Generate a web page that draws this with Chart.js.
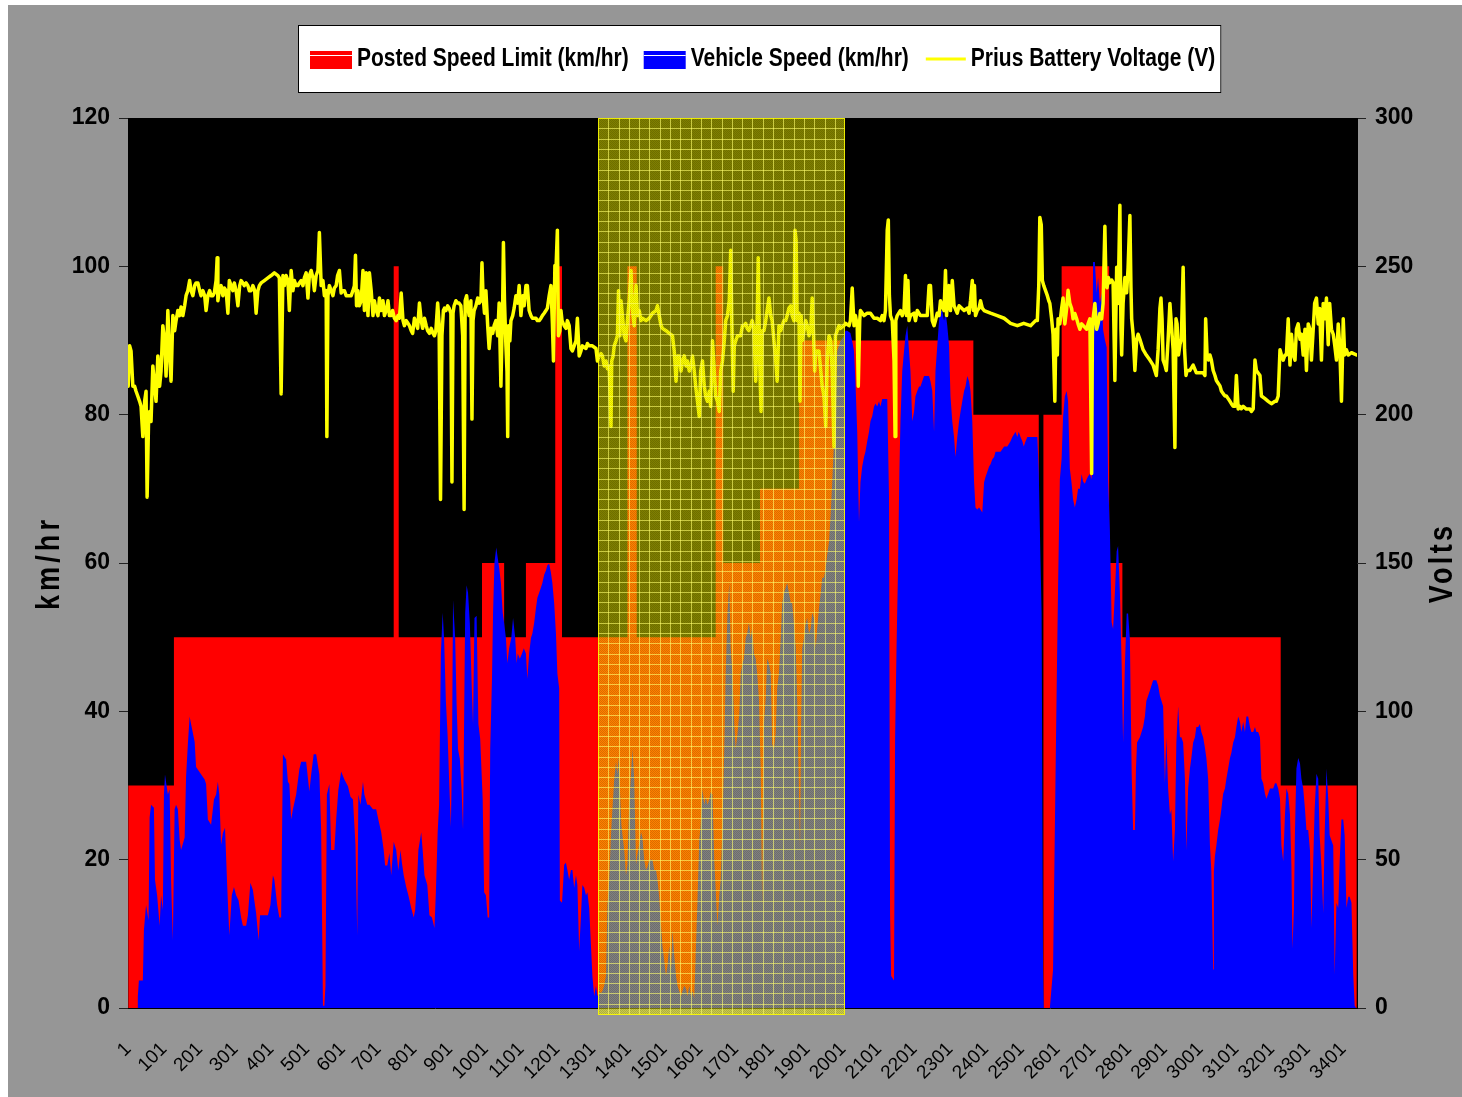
<!DOCTYPE html>
<html>
<head>
<meta charset="utf-8">
<title>Posted speed, vehicle speed and battery voltage</title>
<script src="https://cdn.jsdelivr.net/npm/chart.js@4.4.1/dist/chart.umd.min.js"></script>
<style>
  html, body { margin: 0; padding: 0; background: #fff; }
  canvas { display: block; }
</style>
</head>
<body>
<canvas id="chart" width="1462" height="1097"></canvas>
<script>
'use strict';

// sample number (1..3439) -> value
const seriesNames = ['Posted Speed Limit (km/hr)', 'Vehicle Speed (km/hr)', 'Prius Battery Voltage (V)'];
const xTickLabels = [1, 101, 201, 301, 401, 501, 601, 701, 801, 901, 1001, 1101, 1201, 1301, 1401, 1501, 1601,
  1701, 1801, 1901, 2001, 2101, 2201, 2301, 2401, 2501, 2601, 2701, 2801, 2901, 3001, 3101, 3201, 3301, 3401];
const highlightSamples = [1315, 2006];

// posted limit, value holds from the sample onward
const speedLimit = [[1, 30], [129, 50], [744, 100], [758, 50], [991, 60], [1053, 50], [1114, 60], [1196, 100],
  [1215, 50], [1398, 100], [1424, 50], [1645, 100], [1666, 60], [1769, 70], [1878, 90], [2366, 80], [2549, 0],
  [2562, 80], [2613, 100], [2746, 60], [2783, 50], [3226, 30], [3439, 30]];

const vehicleSpeed = [
  [1,0],[27,0],[28,1.6],[31,3.7],[42,3.7],[45,10.5],[51,13.9],[58,11.8],[61,25.7],[65,27.4],[73,27.0],[76,17.3],
  [82,15.2],[89,11.1],[93,15.2],[98,13.2],[101,28.8],[104,31.5],[112,28.8],[117,29.5],[121,17.3],[126,9.1],
  [131,26.8],[135,27.4],[140,26.8],[145,22.7],[149,21.3],[159,23.0],[163,31.2],[168,35.6],[173,39.3],[177,38.3],
  [187,35.9],[191,32.5],[201,31.8],[215,30.8],[219,30.2],[224,25.4],[233,24.7],[241,28.1],[247,28.8],[252,30.5],
  [256,28.8],[261,22.0],[266,23.6],[272,24.3],[278,16.6],[284,9.8],[291,15.2],[297,16.3],[303,15.2],[310,14.5],
  [317,12.2],[322,11.1],[331,11.1],[336,12.5],[343,16.9],[350,15.9],[354,14.5],[359,12.8],[366,9.1],[370,12.5],
  [378,12.5],[392,12.5],[399,13.9],[406,17.9],[410,17.3],[418,13.9],[424,12.2],[429,12.2],[434,34.2],[443,33.5],
  [448,30.5],[452,30.2],[457,25.4],[462,26.8],[471,28.8],[480,32.2],[485,33.2],[499,33.2],[508,29.2],[513,31.5],
  [520,34.2],[527,34.2],[536,31.5],[541,24.0],[546,0.3],[550,0.3],[553,3.0],[557,28.8],[564,30.2],[569,21.3],
  [578,21.3],[583,25.4],[589,29.4],[597,31.9],[606,30.8],[616,29.9],[623,28.5],[630,28.1],[637,22.0],[642,9.8],
  [645,28.8],[651,27.4],[658,30.5],[662,28.8],[670,27.4],[676,27.4],[686,26.8],[695,26.8],[701,25.4],[709,23.7],
  [716,21.3],[720,19.2],[726,19.2],[732,20.9],[737,17.9],[744,22.4],[751,21.3],[757,18.5],[763,21.3],[767,19.6],
  [772,17.9],[779,16.3],[785,15.2],[793,13.5],[800,12.2],[804,13.2],[810,17.9],[813,21.3],[821,23.7],[825,21.3],
  [830,17.9],[838,16.6],[844,12.5],[851,12.2],[858,10.8],
  [862,15.6],[867,23.7],[871,27.4],[876,47.8],[881,53.3],[885,49.9],[890,41.4],[895,36.6],[899,30.8],[904,24.4],
  [907,33.6],[910,55.0],[916,49.9],[920,41.0],[924,34.9],[929,33.6],[934,29.5],[938,24.0],[944,53.3],[948,57.0],
  [952,56.0],[957,51.9],[963,42.4],[966,38.3],[970,52.6],[976,52.9],[981,38.3],[986,36.3],[993,28.1],[997,15.6],
  [1002,15.2],[1007,12.2],[1011,12.2],[1014,34.9],[1019,44.4],[1022,53.3],[1026,60.1],[1031,62.1],[1035,60.7],
  [1039,59.4],[1044,57.3],[1049,53.3],[1053,51.9],[1058,49.9],[1062,46.5],[1067,48.5],[1073,49.9],[1078,52.6],
  [1084,49.9],[1088,46.5],[1091,47.8],[1097,47.1],[1103,47.8],[1108,48.5],[1114,47.8],[1118,44.4],[1123,47.8],
  [1128,49.9],[1132,50.5],[1137,51.9],[1142,53.9],[1146,55.3],[1151,56.0],[1156,56.7],[1160,57.3],[1165,58.4],
  [1170,59.0],[1174,59.7],[1179,59.9],[1184,58.7],[1188,57.3],[1193,54.6],[1198,50.5],[1202,45.1],[1207,43.1],
  [1209,14.5],[1215,14.2],[1221,19.3],[1226,19.6],[1230,18.6],[1235,17.3],[1240,18.6],[1244,18.6],[1249,16.2],
  [1254,17.9],[1258,16.6],[1263,7.7],[1268,12.5],[1272,16.6],[1277,16.2],[1282,15.2],[1286,15.6],[1291,13.5],
  [1296,8.4],[1300,4.3],[1305,1.6],[1310,3.0],[1314,1.6],[1319,2.3],[1324,2.0],[1328,2.3],[1333,3.0],[1338,4.3],
  [1342,13.9],[1347,17.3],[1352,23.4],[1356,26.8],[1361,30.8],[1366,33.2],[1370,31.5],[1373,33.9],[1377,29.5],
  [1381,24.7],[1384,23.4],[1389,21.3],[1394,17.9],[1398,19.3],[1403,27.4],[1408,31.5],[1412,34.9],[1417,30.8],
  [1422,19.3],[1426,20.7],[1431,22.0],[1436,23.7],[1440,23.0],[1445,20.0],[1450,18.6],[1454,19.0],[1459,20.0],
  [1464,20.0],[1468,20.0],[1473,18.6],[1478,18.6],[1482,17.3],[1487,14.9],[1492,11.1],[1496,8.4],[1501,6.4],
  [1506,4.3],[1510,5.7],[1515,8.4],[1520,5.0],[1524,10.5],[1529,7.1],[1534,4.3],[1538,3.0],[1543,2.3],[1548,1.6],
  [1552,2.3],[1557,3.0],[1562,2.6],[1566,1.6],[1571,3.0],[1576,1.6],[1580,2.3],[1585,1.3],[1589,7.1],[1594,14.5],
  [1599,22.7],[1603,24.7],[1608,29.5],[1613,27.4],[1617,28.5],[1622,27.4],[1627,28.1],[1631,29.1],[1636,28.8],
  [1641,20.0],[1645,15.9],[1650,11.1],[1655,15.2],[1659,17.3],[1664,24.7],[1669,34.9],[1673,45.1],[1678,53.3],
  [1683,57.3],[1687,48.5],[1692,45.1],[1697,38.3],[1701,34.9],[1706,37.0],[1711,39.7],[1715,45.1],[1720,46.5],
  [1724,47.1],[1729,49.9],[1733,50.5],[1738,51.9],[1743,49.9],[1747,51.2],[1752,47.8],[1757,47.1],[1761,45.1],
  [1766,41.7],[1771,32.2],[1775,13.9],[1780,38.3],[1785,41.7],[1789,47.1],[1794,46.5],[1799,45.1],[1803,35.6],
  [1808,34.9],[1813,37.0],[1817,43.1],[1822,45.1],[1827,49.9],[1831,54.6],[1836,56.0],[1841,56.7],[1845,57.3],
  [1850,56.0],[1855,54.6],[1859,54.6],[1864,51.9],[1869,48.5],[1873,41.7],[1878,29.5],[1881,21.3],[1884,38.3],
  [1887,48.5],[1892,49.9],[1897,51.9],[1901,52.6],[1906,50.5],[1911,51.2],[1915,53.3],[1920,52.6],[1925,48.5],
  [1929,51.2],[1934,53.9],[1939,56.0],[1943,58.0],[1948,58.0],[1953,59.4],[1957,61.1],[1962,62.8],[1967,66.8],
  [1971,70.9],[1976,76.4],[1980,82.5],[1985,88.6],[1994,89.9],[2004,90.6],[2008,91.3],[2013,91.3],[2022,91.0],
  [2027,89.9],[2032,88.6],[2036,84.5],[2041,77.7],[2046,65.5],[2050,70.9],[2055,73.0],[2060,74.3],[2064,75.0],
  [2069,76.4],[2074,77.7],[2078,79.1],[2083,79.8],[2088,81.1],[2092,81.5],[2097,81.1],[2102,81.8],[2106,81.1],
  [2111,82.1],[2116,82.1],[2125,82.1],[2130,68.9],[2133,12.5],[2136,4.3],[2144,3.7],[2147,36.3],[2151,48.5],
  [2155,58.7],[2159,72.3],[2162,79.1],[2167,85.9],[2172,88.6],[2176,90.6],[2181,92.0],[2186,88.6],[2190,85.9],
  [2195,79.1],[2200,80.4],[2204,82.5],[2209,83.2],[2214,83.8],[2218,83.8],[2223,84.5],[2228,85.2],[2237,85.2],
  [2242,85.2],[2246,84.5],[2251,83.2],[2256,77.7],[2260,85.9],[2265,89.3],[2270,92.7],[2274,94.0],[2279,94.0],
  [2284,92.7],[2288,94.0],[2293,92.0],[2298,89.3],[2302,82.5],[2307,79.1],[2312,77.0],[2316,74.3],[2321,77.0],
  [2326,79.1],[2330,80.4],[2335,81.8],[2340,83.2],[2344,83.8],[2349,85.2],[2354,84.5],[2358,83.2],[2363,79.1],
  [2368,70.9],[2372,67.5],[2377,67.2],[2382,67.5],[2386,67.2],[2391,66.8],[2396,70.9],[2400,71.6],[2405,72.3],
  [2410,73.0],[2414,73.3],[2419,74.0],[2424,74.3],[2428,75.0],[2442,75.0],[2452,75.7],[2461,75.7],[2470,76.4],
  [2475,77.0],[2484,77.7],[2489,77.0],[2493,77.7],[2498,77.0],[2503,76.4],[2507,75.7],[2512,76.4],[2517,77.0],
  [2545,77.0],[2549,72.3],[2554,60.1],[2557,53.3],[2561,5.0],[2563,0],
  [2580,0],[2589,5.2],[2594,24.0],[2599,42.8],[2603,56.7],[2608,71.3],[2613,74.1],[2617,79.7],[2622,82.5],
  [2627,83.2],[2631,81.8],[2636,72.7],[2641,70.7],[2645,68.6],[2650,67.5],[2655,68.6],[2659,70.0],[2664,70.0],
  [2669,72.0],[2673,71.0],[2678,70.7],[2683,71.3],[2687,71.7],[2692,72.0],[2697,71.3],[2701,100.6],[2706,100.6],
  [2711,96.4],[2715,98.5],[2720,95.0],[2725,96.4],[2729,91.5],[2734,90.1],[2739,89.1],[2743,71.3],[2748,64.4],
  [2753,52.0],[2757,51.1],[2762,56.0],[2767,61.6],[2771,62.3],[2776,56.0],[2781,46.2],[2785,35.8],[2790,46.2],
  [2795,53.2],[2799,53.2],[2804,49.7],[2809,31.6],[2813,24.0],[2818,24.0],[2821,32.3],[2824,35.8],[2832,36.5],
  [2841,37.9],[2846,39.3],[2850,41.4],[2860,42.8],[2869,44.2],[2878,44.2],[2883,43.5],[2888,42.1],[2897,40.7],
  [2902,30.3],[2906,36.5],[2911,29.6],[2916,26.1],[2920,26.8],[2925,19.8],[2930,24.0],[2934,35.8],[2939,40.7],
  [2944,36.5],[2948,36.5],[2953,35.8],[2958,30.9],[2962,21.2],[2967,29.6],[2972,32.3],[2976,33.7],[2981,35.8],
  [2986,36.5],[2990,37.9],[2995,37.9],[3000,38.3],[3004,37.2],[3009,36.5],[3014,35.1],[3018,33.7],[3023,30.9],
  [3028,21.9],[3032,18.4],[3037,5.2],[3039,18.4],[3042,20.5],[3046,21.9],[3051,24.0],[3056,25.4],[3060,26.8],
  [3065,28.9],[3070,29.6],[3074,30.9],[3079,32.3],[3084,33.7],[3088,34.4],[3093,35.8],[3098,36.5],[3102,37.9],
  [3107,39.3],[3112,38.6],[3116,37.2],[3121,38.6],[3126,37.2],[3130,39.3],[3135,39.3],[3140,37.9],[3144,37.2],
  [3149,37.2],[3154,37.9],[3158,37.2],[3163,37.2],[3168,36.5],[3172,30.9],[3177,30.3],[3182,28.9],[3186,28.2],
  [3191,28.9],[3196,29.6],[3200,29.6],[3205,29.6],[3210,30.3],[3214,30.3],[3219,29.6],[3224,28.2],[3228,21.9],
  [3233,19.8],[3238,26.1],[3242,29.6],[3247,28.9],[3252,26.1],[3256,19.1],[3259,8.0],[3263,13.5],[3266,24.0],
  [3270,32.3],[3275,33.7],[3280,33.0],[3284,30.9],[3289,29.6],[3294,26.8],[3298,24.0],[3303,24.0],[3308,21.2],
  [3312,10.8],[3317,19.8],[3321,26.8],[3326,31.6],[3331,30.9],[3335,23.3],[3340,19.1],[3345,12.8],[3349,23.3],
  [3354,32.3],[3359,28.2],[3363,23.3],[3368,22.6],[3373,21.9],[3377,4.5],[3382,14.2],[3387,13.5],[3391,19.8],
  [3396,25.4],[3401,25.4],[3405,23.3],[3410,13.5],[3415,15.0],[3419,15.0],[3424,14.2],[3429,4.5],[3433,0.3],
  [3437,0]
];

const batteryVolts = [
  [1,209.6],[5,223.2],[9,221.5],[14,209.6],[19,209.6],[23,207.9],[28,206.2],[33,204.5],[37,202.8],[42,192.6],
  [47,204.5],[51,207.9],[54,172.2],[58,197.7],[61,201.1],[65,197.7],[70,216.4],[75,209.6],[79,204.5],[84,219.8],
  [89,209.6],[93,214.7],[98,230.0],[103,224.9],[107,213.0],[112,235.1],[117,219.8],[121,211.3],[126,233.4],
  [131,228.3],[135,231.7],[140,235.1],[145,233.4],[149,236.3],[154,233.4],[159,236.7],[163,240.1],[168,241.8],
  [173,245.2],[177,241.8],[182,240.1],[187,243.5],[191,244.4],[196,244.4],[201,241.8],[205,240.1],[210,241.8],
  [215,240.1],[219,235.1],[224,240.1],[229,241.8],[233,240.1],[238,240.1],[242,241.0],[247,245.2],[250,252.9],
  [252,238.4],[256,241.8],[261,243.5],[266,240.1],[270,242.7],[275,241.8],[280,234.2],[284,245.2],[289,243.5],
  [294,241.8],[298,244.4],[303,241.8],[308,236.7],[313,243.5],[317,245.2],[322,244.4],[326,243.5],[331,244.4],
  [336,243.5],[340,241.8],[345,241.8],[350,243.5],[355,241.8],[359,234.2],[364,241.8],[368,243.5],[373,244.4],
  [382,245.2],[392,246.1],[401,246.9],[410,247.8],[420,246.9],[424,246.1],[429,207.0],[434,246.9],[438,243.5],
  [443,246.9],[448,245.2],[452,235.1],[457,248.6],[462,241.8],[466,245.2],[471,243.5],[476,243.5],[480,244.4],
  [485,245.2],[490,243.5],[494,246.1],[499,247.8],[504,239.3],[508,246.9],[513,248.6],[518,246.1],[522,241.8],
  [527,246.9],[532,248.6],[536,261.4],[541,243.5],[546,245.2],[550,240.1],[555,241.8],[557,192.6],[560,240.1],
  [564,243.5],[569,241.8],[574,240.1],[578,242.7],[583,243.5],[587,246.9],[592,248.6],[597,241.0],[601,241.8],
  [606,241.8],[611,240.1],[620,240.1],[625,240.1],[630,241.8],[634,243.5],[637,253.7],[640,236.7],[644,241.8],
  [648,236.7],[653,238.4],[658,248.6],[662,235.1],[667,247.8],[672,233.4],[676,247.8],[681,241.8],[686,233.4],
  [690,238.4],[695,235.1],[700,233.4],[704,239.3],[709,235.1],[714,238.4],[718,233.4],[723,235.1],[728,238.4],
  [732,233.4],[737,233.4],[741,235.1],[746,232.5],[751,231.7],[756,233.4],[760,232.5],[765,241.0],[770,231.7],
  [774,230.0],[779,231.7],[784,230.8],[788,230.0],[793,228.3],[797,227.4],[802,232.5],[807,230.8],[811,229.1],
  [816,237.6],[821,231.7],[825,229.1],[830,232.5],[835,230.0],[839,228.3],[844,227.4],[849,229.1],[854,227.4],
  [858,226.6],
  [862,228.3],[867,237.6],[871,230.8],[875,171.4],[879,226.6],[883,235.1],[886,235.9],[890,235.1],[895,236.7],
  [899,235.9],[904,234.2],[907,177.3],[910,234.2],[913,236.7],[918,238.4],[923,237.6],[927,237.6],[932,236.7],
  [937,226.6],[941,168.0],[944,238.4],[948,240.1],[951,236.7],[955,233.4],[960,238.4],[963,198.5],[966,231.7],
  [969,235.1],[974,236.7],[979,239.3],[983,237.6],[988,238.4],[991,251.2],[994,240.1],[998,234.2],[1002,241.8],
  [1007,230.0],[1011,222.3],[1016,229.1],[1021,227.4],[1025,230.0],[1030,231.7],[1035,226.6],[1039,237.6],
  [1044,209.6],[1049,238.4],[1051,258.0],[1054,238.4],[1058,223.2],[1061,214.7],[1063,192.6],[1065,230.0],
  [1069,224.9],[1072,231.7],[1077,233.4],[1081,235.9],[1086,240.1],[1091,237.6],[1095,243.5],[1100,233.4],
  [1105,240.1],[1109,236.7],[1114,243.5],[1118,243.5],[1123,235.1],[1128,233.4],[1132,232.5],[1142,232.5],
  [1146,231.7],[1151,231.7],[1156,232.5],[1160,233.4],[1165,234.2],[1170,235.1],[1174,235.9],[1179,240.1],
  [1184,243.5],[1188,230.8],[1191,218.1],[1195,250.3],[1198,248.6],[1202,262.2],[1205,226.6],[1209,228.3],
  [1212,235.1],[1215,231.7],[1221,230.0],[1226,229.1],[1230,231.7],[1235,230.0],[1240,222.3],[1244,221.5],
  [1249,223.2],[1254,224.9],[1258,232.5],[1263,219.8],[1268,221.5],[1272,223.2],[1282,222.3],[1286,224.0],
  [1291,223.2],[1300,223.2],[1310,222.3],[1314,218.1],[1319,219.8],[1324,220.6],[1328,219.8],[1333,216.4],
  [1338,218.1],[1342,215.5],[1347,216.4],[1352,196.0],[1354,218.1],[1358,219.8],[1361,223.2],[1366,224.9],
  [1370,226.6],[1373,241.8],[1377,226.6],[1380,238.4],[1384,233.4],[1389,226.6],[1394,224.9],[1398,231.7],
  [1403,238.4],[1408,248.6],[1412,235.1],[1417,230.0],[1422,243.5],[1426,233.4],[1431,235.1],[1436,231.7],
  [1440,232.5],[1450,231.7],[1459,232.5],[1468,234.2],[1478,235.1],[1482,236.7],[1487,233.4],[1492,230.0],
  [1496,229.1],[1506,228.3],[1515,227.4],[1524,226.6],[1529,221.5],[1534,211.3],[1538,219.8],[1543,219.8],
  [1548,214.7],[1552,218.1],[1557,219.8],[1562,216.4],[1566,218.1],[1571,214.7],[1576,216.4],[1580,219.8],
  [1585,214.7],[1589,209.6],[1594,204.5],[1599,199.4],[1603,214.7],[1608,218.1],[1613,209.6],[1617,206.2],
  [1622,204.5],[1627,207.9],[1631,202.8],[1636,224.9],[1641,214.7],[1645,206.2],[1650,204.5],[1655,201.1],
  [1659,214.7],[1664,218.1],[1669,224.9],[1673,231.7],[1678,233.4],[1683,238.4],[1687,255.4],[1690,231.7],
  [1694,207.9],[1697,223.2],[1701,224.9],[1706,226.6],[1715,226.6],[1720,230.0],
  [1724,230.0],[1729,230.8],[1733,229.1],[1738,228.3],[1743,230.0],[1747,231.7],[1752,229.1],[1757,211.3],
  [1761,231.7],[1764,252.9],[1768,218.1],[1772,201.1],[1775,228.3],[1780,228.3],[1785,231.7],[1789,235.1],
  [1794,239.3],[1799,233.4],[1803,231.7],[1808,224.9],[1813,218.1],[1817,211.3],[1822,230.0],[1827,228.3],
  [1831,230.0],[1836,231.7],[1841,231.7],[1845,233.4],[1850,235.9],[1855,236.7],[1859,233.4],[1864,231.7],
  [1867,262.2],[1870,258.8],[1873,231.7],[1878,234.2],[1881,204.5],[1884,233.4],[1887,224.9],[1892,228.3],
  [1897,231.7],[1901,230.0],[1906,226.6],[1911,228.3],[1915,239.3],[1918,230.0],[1922,214.7],[1925,221.5],
  [1934,221.5],[1939,214.7],[1943,209.6],[1948,206.2],[1953,196.0],[1957,218.1],[1962,226.6],[1967,224.9],
  [1971,214.7],[1976,189.2],[1980,226.6],[1985,228.3],[1990,230.0],[1994,229.1],[2004,230.0],[2008,230.8],
  [2018,230.0],[2022,231.7],[2027,242.7],[2032,230.0],[2036,233.4],[2041,230.0],[2044,209.6],[2048,231.7],
  [2050,235.1],[2060,233.4],[2069,234.2],[2078,234.2],[2088,232.5],[2097,232.5],[2106,231.7],[2111,233.4],
  [2116,231.7],[2120,235.1],[2125,262.2],[2128,265.6],[2131,240.1],[2134,233.4],[2139,231.7],[2144,218.1],
  [2147,192.6],[2149,231.7],[2153,233.4],[2162,235.1],[2167,233.4],[2172,235.1],[2176,246.9],[2179,233.4],
  [2183,245.2],[2186,231.7],[2190,233.4],[2200,234.2],[2204,231.7],[2209,235.1],[2218,233.4],[2228,233.4],
  [2237,233.4],[2242,243.5],[2246,243.5],[2251,231.7],[2256,230.0],[2260,231.7],[2265,234.2],[2270,233.4],
  [2274,238.4],[2279,236.7],[2284,235.1],[2288,248.6],[2291,233.4],[2295,241.8],[2298,243.5],[2302,235.1],
  [2307,245.2],[2312,236.7],[2321,234.2],[2326,236.7],[2340,235.1],[2349,235.9],[2354,234.2],[2358,238.4],
  [2363,245.2],[2366,235.1],[2369,243.5],[2372,233.4],[2377,235.1],[2382,235.9],[2386,238.4],[2391,235.9],
  [2396,235.1],[2414,234.2],[2433,233.4],[2452,232.5],[2470,230.8],[2489,230.0],[2507,230.8],[2526,230.0],
  [2540,231.7],[2545,231.7],[2549,243.5],[2552,266.5],[2556,264.0],[2559,245.2],[2563,243.5],[2568,241.8],
  [2573,240.1],[2577,238.4],
  [2580,237.5],[2585,232.3],[2589,227.1],[2594,204.5],[2597,228.8],[2601,220.1],[2603,232.3],[2608,230.6],
  [2613,235.8],[2617,239.3],[2622,230.6],[2627,235.8],[2631,241.9],[2636,237.5],[2641,235.8],[2645,232.3],
  [2650,234.1],[2655,232.3],[2659,230.6],[2664,228.8],[2669,230.6],[2683,228.8],[2687,230.6],[2692,232.3],
  [2697,180.2],[2699,227.1],[2701,232.3],[2706,237.5],[2711,228.8],[2715,230.6],[2720,234.1],[2725,232.3],
  [2729,237.5],[2734,263.5],[2737,244.5],[2740,242.8],[2744,246.2],[2748,244.5],[2753,245.4],[2757,244.5],
  [2762,211.5],[2767,249.7],[2771,237.5],[2776,270.6],[2779,228.8],[2781,220.1],[2785,237.5],[2790,246.2],
  [2795,241.1],[2799,249.7],[2804,267.1],[2807,242.8],[2809,232.3],[2813,227.1],[2818,214.9],[2823,225.4],
  [2827,227.1],[2832,225.4],[2841,221.9],[2850,220.1],[2860,218.4],[2869,216.7],[2878,213.2],[2883,221.9],
  [2888,235.8],[2891,239.3],[2894,232.3],[2897,218.4],[2902,216.7],[2906,214.9],[2911,225.4],[2916,237.5],
  [2920,230.6],[2925,221.9],[2930,188.9],[2933,232.3],[2936,230.6],[2940,220.1],[2944,223.6],[2948,225.4],
  [2953,249.7],[2957,221.9],[2961,213.2],[2964,214.9],[2972,214.9],[2981,216.7],[2990,214.1],[3000,214.1],
  [3009,214.1],[3014,213.2],[3016,232.3],[3020,220.1],[3024,218.4],[3028,220.1],[3032,218.4],[3037,214.9],
  [3042,213.2],[3046,211.5],[3051,210.6],[3056,209.7],[3060,208.0],[3065,207.1],[3070,206.3],[3074,206.3],
  [3079,205.4],[3084,204.5],[3088,203.7],[3093,202.8],[3098,202.8],[3102,213.2],[3107,201.9],[3112,202.8],
  [3116,202.0],[3121,202.8],[3130,201.9],[3140,201.9],[3144,201.1],[3149,201.9],[3154,218.4],[3158,214.9],
  [3168,213.2],[3172,206.3],[3182,205.4],[3191,204.5],[3200,203.7],[3210,204.5],[3214,204.5],[3219,206.3],
  [3224,221.9],[3228,220.1],[3233,218.4],[3238,220.1],[3242,220.1],[3247,232.3],[3252,216.7],[3256,227.1],
  [3261,220.1],[3266,218.4],[3270,228.8],[3275,230.6],[3280,225.4],[3284,227.1],[3289,220.1],[3294,228.8],
  [3298,214.9],[3303,230.6],[3308,228.8],[3312,218.4],[3317,228.8],[3321,237.5],[3326,239.3],[3331,230.6],
  [3335,235.8],[3340,218.4],[3345,237.5],[3349,232.3],[3354,239.3],[3359,223.6],[3363,237.5],[3368,228.8],
  [3373,227.1],[3377,223.6],[3382,218.4],[3387,230.6],[3391,223.6],[3396,204.5],[3399,220.1],[3401,232.3],
  [3405,220.1],[3410,221.9],[3415,220.1],[3424,220.9],[3438,220.1]
];

// no Arial Narrow here: squeeze Liberation Sans horizontally instead
const SANS = '"Liberation Sans", Arial, sans-serif';
const NARROW_SCALE = 0.82;
const toPoints = (pairs) => pairs.map(p => ({ x: p[0], y: p[1] }));

function narrowText(ctx, text, x, y) {
  ctx.save();
  ctx.translate(x, y);
  ctx.scale(NARROW_SCALE, 1);
  ctx.fillText(text, 0, 0);
  ctx.restore();
}

// grey frame, white edge at top/left, black plot area
const backdrop = {
  id: 'backdrop',
  beforeDraw(chart) {
    const { ctx, chartArea: a } = chart;
    ctx.save();
    ctx.fillStyle = '#ffffff';
    ctx.fillRect(0, 0, chart.width, chart.height);
    ctx.fillStyle = '#969696';
    ctx.fillRect(8, 5, chart.width - 8, chart.height - 5);
    ctx.fillStyle = '#000000';
    ctx.fillRect(a.left, a.top, a.right - a.left, a.bottom - a.top);
    ctx.restore();
  }
};

// the translucent yellow grid-patterned block
let dither = null;
const highlight = {
  id: 'highlight',
  afterDatasetsDraw(chart) {
    const { ctx, chartArea: a } = chart;
    const x = chart.scales.x;
    const x0 = Math.round(x.getPixelForValue(highlightSamples[0]));
    const x1 = Math.round(x.getPixelForValue(highlightSamples[1]));
    const top = a.top, bottom = a.bottom + 7;
    const cell = 10.3;
    if (!dither) {
      const c = document.createElement('canvas');
      c.width = 2; c.height = 2;
      const g = c.getContext('2d');
      g.fillStyle = 'rgba(0,0,0,0.14)';
      g.fillRect(0, 0, 1, 1);
      g.fillRect(1, 1, 1, 1);
      dither = ctx.createPattern(c, 'repeat');
    }
    ctx.save();
    ctx.fillStyle = 'rgba(255, 255, 0, 0.5)';
    ctx.fillRect(x0, top, x1 - x0, bottom - top);
    ctx.fillStyle = dither;
    ctx.fillRect(x0, top, x1 - x0, bottom - top);
    ctx.strokeStyle = 'rgba(255, 255, 110, 0.6)';
    ctx.lineWidth = 1;
    ctx.beginPath();
    for (let gx = x0 + cell; gx < x1 - 2; gx += cell) {
      ctx.moveTo(Math.round(gx) + 0.5, top);
      ctx.lineTo(Math.round(gx) + 0.5, bottom);
    }
    for (let gy = top + cell; gy < bottom - 2; gy += cell) {
      ctx.moveTo(x0, Math.round(gy) + 0.5);
      ctx.lineTo(x1, Math.round(gy) + 0.5);
    }
    ctx.stroke();
    ctx.strokeStyle = 'rgba(255, 255, 0, 0.85)';
    ctx.strokeRect(x0 + 0.5, top + 0.5, x1 - x0 - 1, bottom - top - 1);
    ctx.restore();
  }
};

// axis titles (both read bottom to top) and the boxed legend
const annotations = {
  id: 'annotations',
  afterDraw(chart) {
    const { ctx, chartArea: a } = chart;
    const midY = (a.top + a.bottom) / 2;
    ctx.save();
    ctx.fillStyle = '#000';
    ctx.textAlign = 'center';
    ctx.textBaseline = 'middle';
    ctx.font = 'bold 33px ' + SANS;
    [['km/hr', 50, '5px'], ['Volts', 1443, '4px']].forEach(([txt, cx, sp]) => {
      ctx.save();
      ctx.translate(cx, midY);
      ctx.rotate(-Math.PI / 2);
      ctx.scale(NARROW_SCALE, 1);
      ctx.letterSpacing = sp;
      ctx.fillText(txt, 0, 0);
      ctx.restore();
    });

    ctx.font = 'bold 25.6px ' + SANS;
    ctx.textAlign = 'left';
    const sw = 42, gapText = 5, gapItem = 15;
    const widths = seriesNames.map(n => ctx.measureText(n).width * NARROW_SCALE);
    const content = widths.reduce((s, w) => s + sw + gapText + w, 0) + gapItem * (seriesNames.length - 1);
    const boxL = 298, boxT = 25, boxH = 68, boxW = content + 12 + 6;
    ctx.fillStyle = '#ffffff';
    ctx.fillRect(boxL, boxT, boxW, boxH);
    ctx.strokeStyle = '#000';
    ctx.lineWidth = 1;
    ctx.strokeRect(boxL + 0.5, boxT + 0.5, boxW - 1, boxH - 1);
    const cy = boxT + 34;
    let lx = boxL + 12;
    chart.data.datasets.forEach((ds, i) => {
      if (ds.fill) {
        ctx.fillStyle = ds.backgroundColor;
        ctx.fillRect(lx, cy - 8, sw, 18);
        ctx.fillStyle = '#ffffff';
        ctx.fillRect(lx, cy - 4, sw, 1);
      } else {
        ctx.strokeStyle = ds.borderColor;
        ctx.lineWidth = 3;
        ctx.beginPath();
        ctx.moveTo(lx + 2, cy);
        ctx.lineTo(lx + sw, cy);
        ctx.stroke();
      }
      lx += sw + gapText;
      ctx.fillStyle = '#000';
      narrowText(ctx, seriesNames[i], lx, cy);
      lx += widths[i] + gapItem;
    });
    ctx.restore();
  }
};

const ctx = document.getElementById('chart').getContext('2d');
const tickFont = { family: SANS, size: 23, weight: 'bold' };

const chart = new Chart(ctx, {
  type: 'line',
  data: {
    datasets: [
      {
        label: seriesNames[0],
        data: toPoints(speedLimit),
        stepped: true,
        fill: 'origin',
        backgroundColor: '#ff0000',
        borderColor: 'rgba(0,0,0,0)',
        borderWidth: 0,
        pointRadius: 0,
        yAxisID: 'y',
        order: 3
      },
      {
        label: seriesNames[1],
        data: toPoints(vehicleSpeed),
        fill: 'origin',
        backgroundColor: '#0000ff',
        borderColor: 'rgba(0,0,0,0)',
        borderWidth: 0,
        pointRadius: 0,
        tension: 0,
        yAxisID: 'y',
        order: 2
      },
      {
        label: seriesNames[2],
        data: toPoints(batteryVolts),
        fill: false,
        borderColor: '#ffff00',
        borderWidth: 3.5,
        borderJoinStyle: 'round',
        borderCapStyle: 'round',
        pointRadius: 0,
        tension: 0,
        yAxisID: 'yV',
        order: 1
      }
    ]
  },
  options: {
    responsive: false,
    animation: false,
    devicePixelRatio: 1,
    layout: { padding: { top: 118, left: 0, right: 0, bottom: 0 } },
    plugins: {
      legend: { display: false },
      tooltip: { enabled: false }
    },
    scales: {
      x: {
        type: 'linear',
        min: 0.5,
        max: 3439.5,
        afterBuildTicks: (scale) => { scale.ticks = xTickLabels.map(v => ({ value: v })); },
        afterFit: (scale) => { scale.height = 89; },
        grid: { display: false, drawTicks: false },
        border: { display: true, color: '#000', width: 1 },
        ticks: {
          autoSkip: false,
          minRotation: 45,
          maxRotation: 45,
          padding: 30,
          color: '#000',
          font: { family: SANS, size: 19 },
          callback: (v) => String(v)
        }
      },
      y: {
        position: 'left',
        min: 0,
        max: 120,
        afterFit: (scale) => { scale.width = 128; },
        grid: { drawOnChartArea: false, tickLength: 9, color: '#222' },
        border: { display: true, color: '#000', width: 1 },
        ticks: { stepSize: 20, padding: 9, color: '#000', font: tickFont }
      },
      yV: {
        position: 'right',
        min: 0,
        max: 300,
        afterFit: (scale) => { scale.width = 105; },
        grid: { drawOnChartArea: false, tickLength: 9, color: '#222' },
        border: { display: true, color: '#000', width: 1 },
        ticks: { stepSize: 50, padding: 9, color: '#000', font: tickFont }
      }
    }
  },
  plugins: [backdrop, highlight, annotations]
});
</script>
</body>
</html>
